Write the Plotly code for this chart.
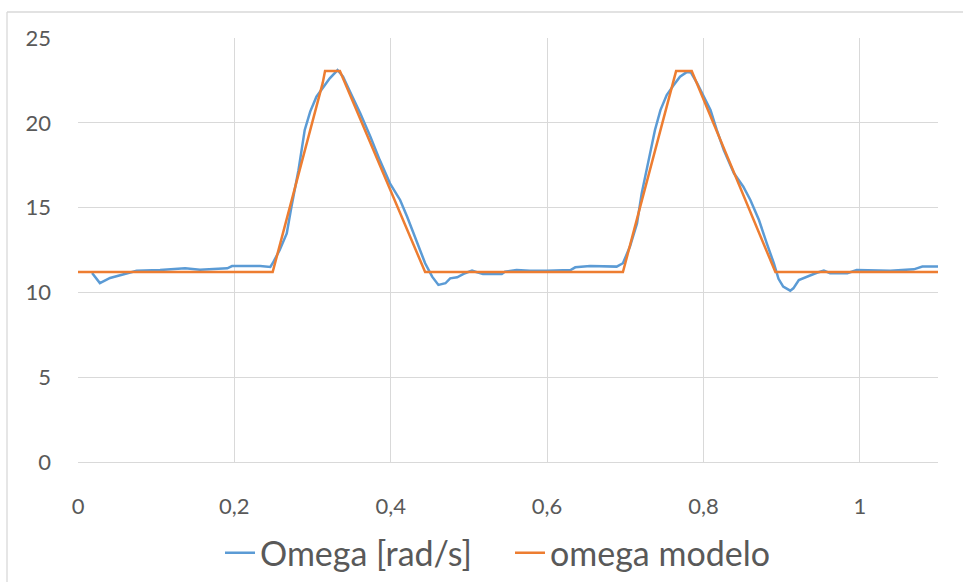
import plotly.graph_objects as go

# Measured signal (blue)
t_omega = [0.018, 0.028, 0.041, 0.063, 0.075, 0.105, 0.137, 0.156, 0.191, 0.197, 0.233, 0.246,
           0.249, 0.258, 0.267, 0.273, 0.282, 0.290, 0.297, 0.305, 0.314, 0.322, 0.332, 0.339,
           0.348, 0.361, 0.374, 0.386, 0.399, 0.412, 0.421, 0.433, 0.444, 0.453, 0.461, 0.470,
           0.476, 0.485, 0.495, 0.504, 0.512, 0.518, 0.542, 0.546, 0.561, 0.578, 0.600, 0.630,
           0.636, 0.655, 0.689, 0.697, 0.706, 0.715, 0.721, 0.730, 0.738, 0.745, 0.753, 0.762,
           0.770, 0.779, 0.784, 0.792, 0.800, 0.809, 0.817, 0.826, 0.839, 0.851, 0.860, 0.871,
           0.881, 0.890, 0.896, 0.902, 0.911, 0.915, 0.922, 0.932, 0.945, 0.954, 0.962, 0.984,
           0.996, 1.039, 1.069, 1.080, 1.100]
omega = [11.14, 10.55, 10.85, 11.14, 11.28, 11.32, 11.42, 11.33, 11.42, 11.55, 11.55, 11.50,
         11.72, 12.50, 13.48, 15.05, 17.20, 19.58, 20.66, 21.54, 22.13, 22.62, 23.11, 22.72,
         21.83, 20.56, 19.18, 17.80, 16.43, 15.45, 14.46, 13.09, 11.72, 10.93, 10.44, 10.54,
         10.83, 10.89, 11.13, 11.28, 11.16, 11.08, 11.08, 11.22, 11.32, 11.28, 11.28, 11.32,
         11.48, 11.56, 11.52, 11.72, 12.70, 14.07, 15.84, 17.80, 19.58, 20.75, 21.64, 22.23,
         22.72, 23.00, 22.96, 22.33, 21.54, 20.75, 19.58, 18.40, 17.02, 16.23, 15.45, 14.27,
         12.89, 11.72, 10.80, 10.34, 10.10, 10.24, 10.73, 10.93, 11.16, 11.28, 11.13, 11.13,
         11.32, 11.28, 11.36, 11.52, 11.52]

# Model (orange)
t_model = [0.0, 0.249, 0.313, 0.316, 0.335, 0.444, 0.697, 0.765, 0.785, 0.892, 1.1]
omega_model = [11.2, 11.2, 22.35, 23.05, 23.05, 11.2, 11.2, 23.05, 23.05, 11.2, 11.2]

x_ticks = [0, 0.2, 0.4, 0.6, 0.8, 1.0]
y_ticks = [0, 5, 10, 15, 20, 25]

FONT = "Lato, 'Open Sans', sans-serif"
GREY = "#595959"
GRID = "#D9D9D9"

fig = go.Figure()
fig.add_trace(go.Scatter(x=t_omega, y=omega, mode="lines", name="Omega [rad/s]",
                         line=dict(color="#5B9BD5", width=2.5)))
fig.add_trace(go.Scatter(x=t_model, y=omega_model, mode="lines", name="omega modelo",
                         line=dict(color="#ED7D31", width=2.5)))

fig.update_layout(
    width=963, height=582,
    margin=dict(l=78, r=25, t=38, b=120, autoexpand=False),
    paper_bgcolor="white", plot_bgcolor="white",
    separators=",.",
    font=dict(family=FONT, color=GREY, size=22),
    showlegend=True,
    legend=dict(orientation="h", x=(220 - 78) / 860, xanchor="left", y=-0.215, yanchor="middle",
                font=dict(size=34, color=GREY, family=FONT), itemwidth=30,
                entrywidth=245, entrywidthmode="pixels", tracegroupgap=0),
    xaxis=dict(range=[0, 1.1], tickvals=x_ticks, showgrid=True, gridcolor=GRID, gridwidth=1.3,
               zeroline=False, showline=True, linecolor=GRID, linewidth=1.3, automargin=False,
               ticks="", ticklabelstandoff=24, tickfont=dict(size=22, color=GREY)),
    yaxis=dict(range=[0, 25], tickvals=y_ticks, showgrid=True, gridcolor=GRID, gridwidth=1.3,
               zeroline=False, showline=False, automargin=False,
               ticks="", ticklabelstandoff=26, tickfont=dict(size=22, color=GREY)),
    shapes=[
        dict(type="line", xref="paper", yref="paper", x0=(7 - 78) / 860, x1=(963 - 78) / 860,
             y0=(462 - 12) / 424, y1=(462 - 12) / 424, line=dict(color=GRID, width=1.3)),
        dict(type="line", xref="paper", yref="paper", x0=(7 - 78) / 860, x1=(7 - 78) / 860,
             y0=(462 - 12) / 424, y1=(462 - 600) / 424, line=dict(color=GRID, width=1.3)),
    ],
)

fig.write_html("out.html")
